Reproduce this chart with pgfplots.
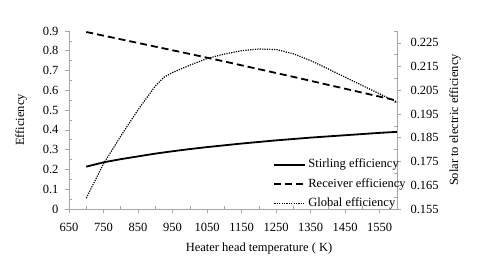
\documentclass[border=0pt]{standalone}
\usepackage{fontspec}
\setmainfont{Liberation Serif}
\usepackage{pgfplots}
\pgfplotsset{compat=1.18}
\newcommand{\fs}{\fontsize{12.5}{14}\selectfont}
\begin{document}
\begin{tikzpicture}[x=1pt,y=1pt]
\path[use as bounding box] (0,0) rectangle (480,261);
\pgfplotsset{
  base/.style={
    scale only axis, width=328pt, height=178pt,
    at={(69pt,52pt)}, anchor=south west,
    xmin=650, xmax=1600,
    tick align=outside, major tick length=4pt, minor tick length=3pt,
    every tick/.style={gray!70, line width=0.6pt},
    every axis/.append style={font=\fs},
    tick label style={font=\fs},
    label style={font=\fs},
    /pgf/number format/assume math mode=true,
    /pgf/number format/1000 sep={},
    axis line style={gray!70, line width=0.6pt},
    clip=false,
  },
}
\begin{axis}[base,
  axis x line*=bottom, axis y line*=left,
  ymin=0, ymax=0.9,
  xtick={650,750,...,1550}, minor xtick={700,800,...,1600},
  ytick={0,0.1,0.2,0.3,0.4,0.5,0.6,0.7,0.8,0.9},
  yticklabels={0,0.1,0.2,0.3,0.4,0.5,0.6,0.7,0.8,0.9},
  minor ytick={0.05,0.15,0.25,0.35,0.45,0.55,0.65,0.75,0.85},
  every minor y tick/.append style={xshift=3pt},
  every minor x tick/.append style={yshift=3pt},
  xticklabel style={yshift=-7pt},
  yticklabel style={xshift=-3pt},
  xlabel={Heater head temperature ( K)},
  ylabel={Efficiency},
  every axis x label/.style={at={(axis description cs:0.5,0)}, xshift=26pt, yshift=-40pt, anchor=center, font=\fs},
  every axis y label/.style={at={(axis description cs:0,0.5)}, xshift=-48pt, rotate=90, anchor=center, font=\fs},
]
\addplot[black, line width=1.8pt] coordinates {
(700,0.214) (750,0.236) (800,0.252) (850,0.266) (900,0.280) (950,0.292)
(1000,0.303) (1050,0.313) (1100,0.322) (1150,0.331) (1200,0.339)
(1250,0.347) (1300,0.354) (1350,0.361) (1400,0.367) (1450,0.373)
(1500,0.379) (1550,0.385) (1600,0.390)};
\addplot[black, line width=1.8pt, dash pattern=on 7pt off 4pt] coordinates {
(700,0.895) (800,0.858) (900,0.821) (1000,0.784) (1100,0.746)
(1200,0.707) (1300,0.668) (1400,0.628) (1500,0.588) (1600,0.548)};
\end{axis}
\begin{axis}[base,
  axis x line=none, axis y line*=right,
  ymin=0.155, ymax=0.23,
  ytick={0.155,0.165,0.175,0.185,0.195,0.205,0.215,0.225},
  yticklabels={0.155,0.165,0.175,0.185,0.195,0.205,0.215,0.225},
  minor ytick={0.16,0.17,0.18,0.19,0.20,0.21,0.22,0.23},
  every minor y tick/.append style={xshift=-3pt},
  yticklabel style={xshift=6pt},
  ylabel={Solar to electric efficiency},
  every axis y label/.style={at={(axis description cs:1,0.5)}, xshift=58pt, rotate=90, anchor=center, font=\fs},
  legend style={draw=none, fill=none, at={(axis description cs:0.614,0.30)}, anchor=north west,
    font=\fs, row sep=5.5pt, column sep=1pt,
    nodes={inner sep=1pt, text height=9pt, text depth=3pt}},
  legend cell align=left,
  legend image code/.code={\draw[#1] (0pt,0pt) -- (31pt,0pt);},
]
\addlegendimage{black, line width=1.8pt}
\addlegendentry{Stirling efficiency}
\addlegendimage{black, line width=1.8pt, dash pattern=on 7pt off 4pt}
\addlegendentry{Receiver efficiency}
\addplot[black, line width=1.2pt, dash pattern=on 1.2pt off 1.2pt] coordinates {
(700,0.1596) (750,0.1741) (800,0.1857) (850,0.1968) (900,0.2068) (925,0.2105)
(950,0.2125) (1000,0.2156) (1050,0.2184) (1100,0.2203) (1150,0.2217)
(1200,0.2224) (1250,0.2222) (1300,0.2204) (1350,0.2175) (1400,0.2141)
(1450,0.2105) (1500,0.2070) (1550,0.2035) (1600,0.2000)};
\addlegendentry{Global efficiency}
\end{axis}
\end{tikzpicture}
\end{document}
